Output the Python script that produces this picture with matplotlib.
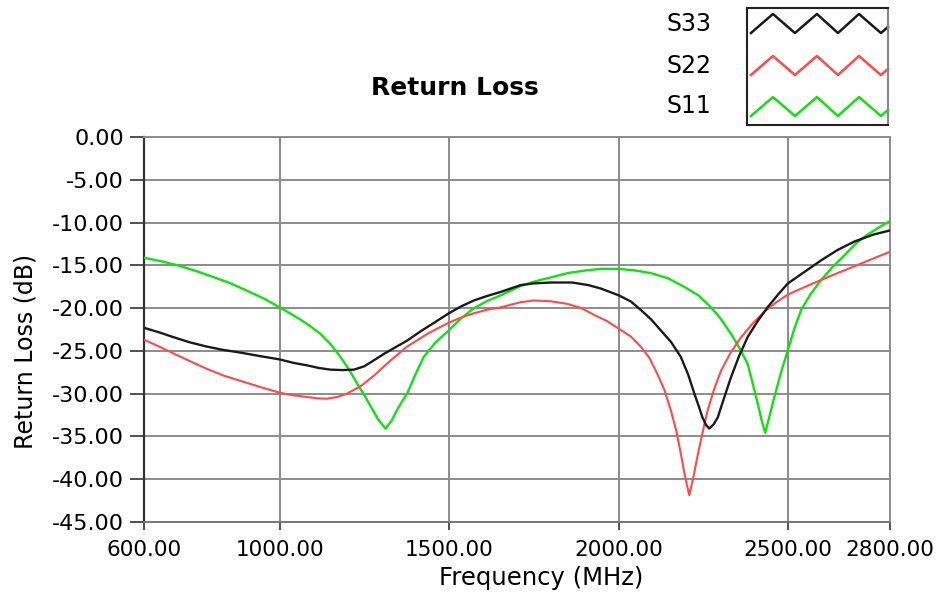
import numpy as np
import matplotlib
matplotlib.use("Agg")
import matplotlib.pyplot as plt

plt.rcParams['font.family'] = ['DejaVu Sans']
plt.rcParams['axes.unicode_minus'] = False

# ---- data ----
s11_f = [600, 650, 700, 750, 800, 850, 900, 950, 1000, 1030, 1060, 1090, 1120, 1150, 1179, 1205,
         1228, 1250, 1270, 1290, 1312, 1330, 1345, 1360, 1376, 1400, 1425, 1460, 1499, 1535,
         1573, 1610, 1652, 1711, 1750, 1800, 1849, 1900, 1947, 2000, 2050, 2095, 2145, 2193,
         2235, 2272, 2300, 2331, 2355, 2380, 2395, 2410, 2422, 2432, 2445, 2459, 2478, 2499,
         2518, 2538, 2565, 2597, 2630, 2666, 2700, 2730, 2765, 2800]
s11_db = [-14.1, -14.5, -15.0, -15.6, -16.3, -17.0, -17.9, -18.8, -19.9, -20.6, -21.3, -22.1,
          -23.0, -24.2, -25.7, -27.2, -28.8, -30.2, -31.6, -33.0, -34.1, -33.2, -32.0, -31.0,
          -30.0, -27.8, -25.7, -24.0, -22.6, -21.2, -20.0, -19.2, -18.5, -17.4, -16.9, -16.4,
          -15.9, -15.6, -15.4, -15.4, -15.6, -15.9, -16.5, -17.5, -18.5, -19.9, -21.2, -23.0,
          -24.6, -26.5, -28.8, -31.2, -33.2, -34.6, -32.6, -30.4, -27.6, -24.9, -22.4, -20.2,
          -18.4, -16.7, -15.2, -13.8, -12.4, -11.5, -10.6, -9.8]

s22_f = [600, 645, 687, 735, 785, 835, 884, 940, 1000, 1040, 1081, 1110, 1140, 1170, 1199, 1240,
         1278, 1325, 1376, 1440, 1499, 1535, 1573, 1610, 1652, 1711, 1750, 1800, 1849, 1890,
         1928, 1965, 2000, 2035, 2065, 2090, 2114, 2135, 2154, 2170, 2183, 2196, 2208, 2220,
         2232, 2247, 2262, 2282, 2302, 2330, 2361, 2395, 2430, 2465, 2499, 2550, 2597, 2645,
         2695, 2750, 2800]
s22_db = [-23.7, -24.5, -25.3, -26.2, -27.1, -27.9, -28.5, -29.2, -29.9, -30.2, -30.4, -30.55,
          -30.6, -30.4, -30.0, -29.1, -27.9, -26.2, -24.5, -22.9, -21.7, -21.1, -20.6, -20.2,
          -19.9, -19.3, -19.1, -19.2, -19.5, -20.0, -20.8, -21.5, -22.4, -23.3, -24.5, -25.8,
          -27.7, -29.6, -32.0, -34.4, -37.0, -39.8, -41.9, -39.8, -37.4, -34.6, -32.0, -29.4,
          -27.3, -25.2, -23.4, -21.8, -20.4, -19.3, -18.4, -17.5, -16.7, -15.9, -15.1, -14.2,
          -13.4]

s33_f = [600, 650, 687, 735, 785, 835, 884, 940, 1000, 1040, 1081, 1115, 1150, 1185, 1219, 1250,
         1278, 1310, 1345, 1376, 1420, 1460, 1499, 1535, 1573, 1610, 1652, 1711, 1750, 1800,
         1863, 1910, 1947, 2000, 2035, 2065, 2095, 2124, 2155, 2183, 2205, 2223, 2237, 2247,
         2258, 2267, 2280, 2292, 2310, 2331, 2355, 2380, 2410, 2439, 2470, 2499, 2550, 2597,
         2645, 2695, 2750, 2800]
s33_db = [-22.3, -22.9, -23.4, -24.0, -24.5, -24.9, -25.2, -25.6, -26.0, -26.4, -26.7, -27.0,
          -27.2, -27.25, -27.2, -26.8, -26.1, -25.3, -24.5, -23.8, -22.6, -21.6, -20.6, -19.8,
          -19.1, -18.6, -18.1, -17.3, -17.1, -17.0, -17.0, -17.3, -17.7, -18.5, -19.2, -20.2,
          -21.3, -22.6, -24.0, -25.7, -27.8, -30.0, -31.6, -32.8, -33.7, -34.1, -33.6, -32.8,
          -30.6, -28.1, -25.6, -23.4, -21.5, -19.9, -18.4, -17.1, -15.7, -14.4, -13.2, -12.2,
          -11.4, -10.9]

x_ticks = [600, 1000, 1500, 2000, 2500, 2800]
y_ticks = [0, -5, -10, -15, -20, -25, -30, -35, -40, -45]
series_names = ["S33", "S22", "S11"]
series_colors = ["#1a1a1a", "#ff4a4a", "#12e012"]

# ---- figure ----
W, H = 937, 595
fig = plt.figure(figsize=(W / 100, H / 100), dpi=100)
fig.patch.set_facecolor("white")

ax = fig.add_axes([144 / W, 1 - 521.7 / H, (890 - 144) / W, (521.7 - 137.3) / H])
ax.set_xlim(600, 2800)
ax.set_ylim(-45, 0)

grid_col = "#8c8c8c"
ax.set_xticks(x_ticks)
ax.set_yticks(y_ticks)
ax.set_xticklabels(["%.2f" % v for v in x_ticks], fontsize=15.5)
ax.set_yticklabels(["%.2f" % v for v in y_ticks], fontsize=16)
ax.grid(True, color=grid_col, linewidth=1.4)
ax.set_axisbelow(True)
ax.tick_params(axis='y', direction='out', length=10, width=1.2, color="#333333", pad=4.5)
ax.tick_params(axis='x', direction='out', length=6, width=1.2, color="#333333", pad=7)

for side in ["top", "right"]:
    ax.spines[side].set_color(grid_col)
    ax.spines[side].set_linewidth(1.4)
ax.spines["left"].set_color("#333333")
ax.spines["left"].set_linewidth(1.6)
ax.spines["bottom"].set_color("#777777")
ax.spines["bottom"].set_linewidth(1.4)

ax.plot(s11_f, s11_db, color=series_colors[2], lw=1.7, zorder=3)
ax.plot(s22_f, s22_db, color=series_colors[1], lw=1.5, zorder=4)
ax.plot(s33_f, s33_db, color=series_colors[0], lw=1.7, zorder=5)

fig.text(541 / W, 1 - 578 / H, "Frequency (MHz)", fontsize=17.5, ha="center", va="center")
fig.text(26 / W, 1 - 351 / H, "Return Loss (dB)", fontsize=17, rotation=90,
         ha="center", va="center")

fig.text(455 / W, 1 - 88 / H, "Return Loss", fontsize=18, fontweight="bold",
         ha="center", va="center")

# ---- legend box with zigzag keys ----
lax = fig.add_axes([747 / W, 1 - 125 / H, 141 / W, 117 / H])
lax.set_xlim(0, 1)
lax.set_ylim(0, 1)
lax.set_xticks([])
lax.set_yticks([])
for sp in lax.spines.values():
    sp.set_color("#222222")
    sp.set_linewidth(1.5)
lax.spines["right"].set_color("#888888")

zig_x = [0.028, 0.184, 0.34, 0.496, 0.645, 0.794, 0.95, 1.0]
zig_phase = [0, 1, 0, 1, 0, 1, 0, 0.32]
rows = [(0.786, 0.949), (0.427, 0.59), (0.077, 0.239)]
label_y = [24, 66, 106]
for (lo, hi), col, name, ly in zip(rows, series_colors, series_names, label_y):
    zy = [lo + p * (hi - lo) for p in zig_phase]
    lax.plot(zig_x, zy, color=col, lw=1.8, clip_on=False)
    fig.text(667 / W, 1 - ly / H, name, fontsize=17, ha="left", va="center")

fig.savefig("out.png", dpi=100, facecolor="white")
